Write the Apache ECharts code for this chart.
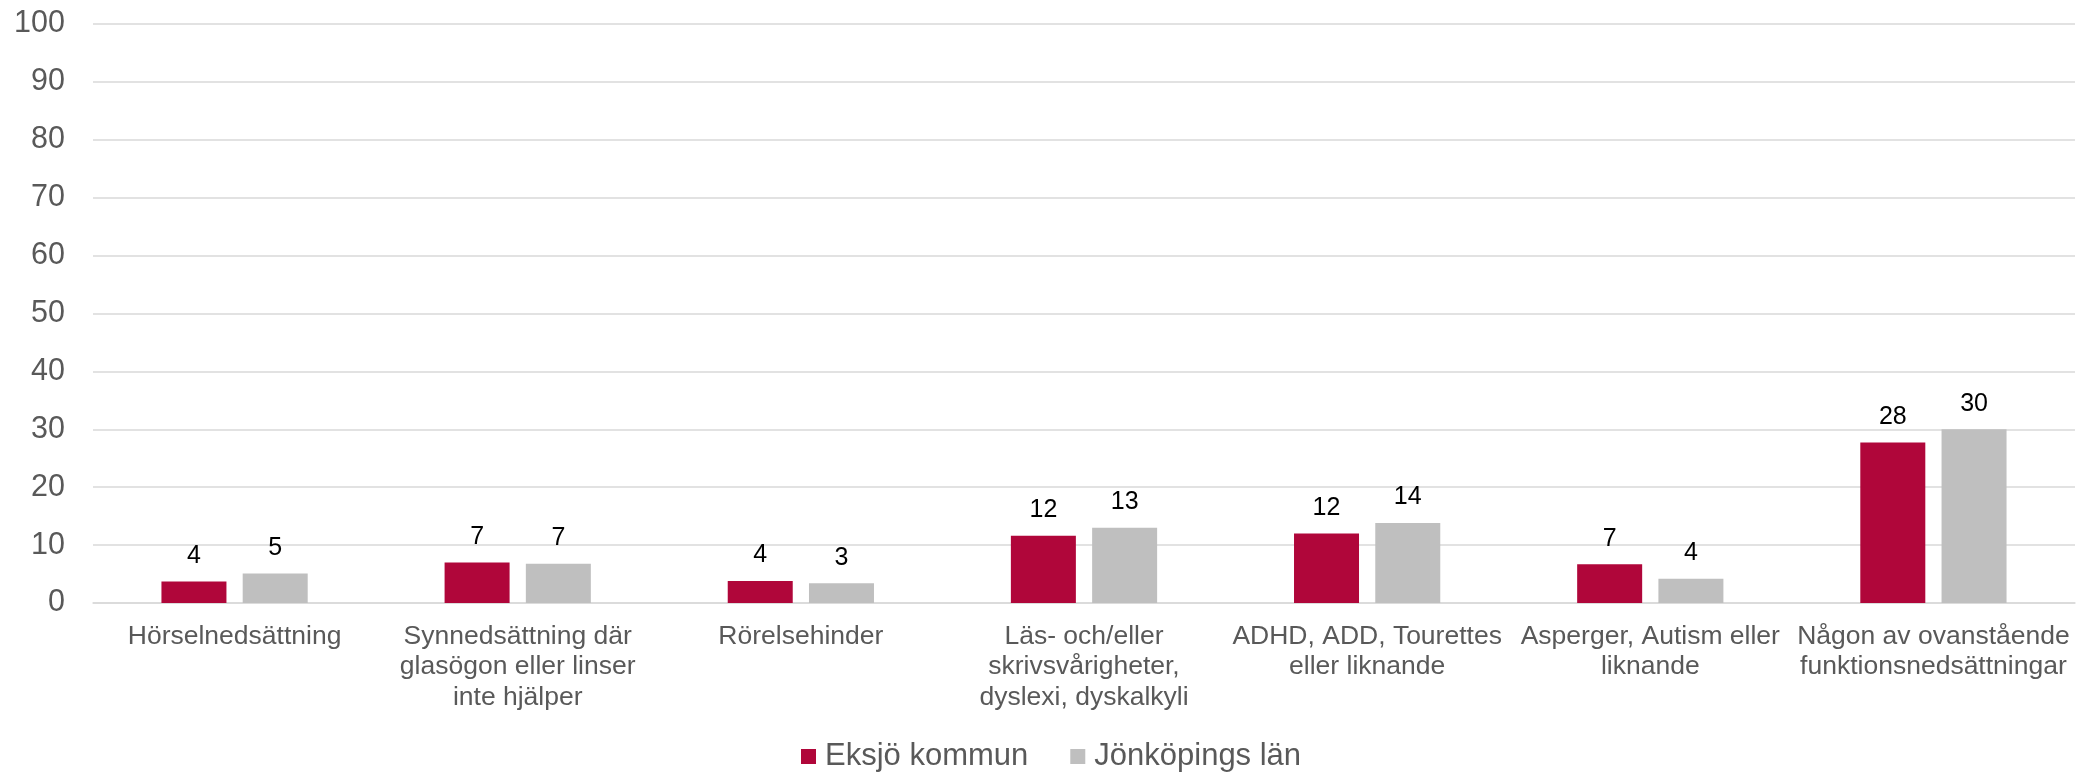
<!DOCTYPE html>
<html>
<head>
<meta charset="utf-8">
<script src="https://cdn.jsdelivr.net/npm/echarts@6/dist/echarts.min.js"></script>
<style>
html,body{margin:0;padding:0;background:#fff;}
#chart{width:2089px;height:772px;}
</style>
</head>
<body>
<div id="chart"></div>
<script>
const categories = [
  "Hörselnedsättning",
  "Synnedsättning där\nglasögon eller linser\ninte hjälper",
  "Rörelsehinder",
  "Läs- och/eller\nskrivsvårigheter,\ndyslexi, dyskalkyli",
  "ADHD, ADD, Tourettes\neller liknande",
  "Asperger, Autism eller\nliknande",
  "Någon av ovanstående\nfunktionsnedsättningar"
];
const seriesNames = ["Eksjö kommun", "Jönköpings län"];
const eksjo = [3.7, 7.0, 3.8, 11.6, 12.0, 6.7, 27.7];
const jonkoping = [5.1, 6.8, 3.4, 13.0, 13.8, 4.2, 30.0];
const yTicks = { min: 0, max: 100, interval: 10 };

const FONT = "'Liberation Sans', Arial, sans-serif";
const chart = echarts.init(document.getElementById('chart'), null, { renderer: 'canvas' });
const labelCfg = {
  show: true,
  position: 'top',
  distance: 13,
  color: '#000',
  fontSize: 25,
  fontFamily: FONT,
  formatter: p => Math.round(p.value)
};
chart.setOption({
  animation: false,
  backgroundColor: '#fff',
  textStyle: { fontFamily: FONT },
  grid: { left: 93, right: 14, top: 24, bottom: 169, containLabel: false },
  legend: {
    left: 796,
    top: 736,
    itemWidth: 15,
    itemHeight: 15,
    itemGap: 42,
    icon: 'rect',
    textStyle: { fontSize: 31, color: '#595959', fontFamily: FONT, padding: [0, 0, 0, 4] },
    data: seriesNames
  },
  xAxis: {
    type: 'category',
    data: categories,
    axisLine: { lineStyle: { color: '#D9D9D9', width: 1.5 } },
    axisTick: { show: false },
    axisLabel: {
      interval: 0,
      margin: 18,
      fontSize: 26.5,
      lineHeight: 30.5,
      color: '#595959',
      fontFamily: FONT
    }
  },
  yAxis: {
    type: 'value',
    min: yTicks.min,
    max: yTicks.max,
    interval: yTicks.interval,
    axisLine: { show: false },
    axisTick: { show: false },
    splitLine: { lineStyle: { color: '#D9D9D9', width: 1.5 } },
    axisLabel: { fontSize: 30.5, color: '#595959', margin: 28, fontFamily: FONT }
  },
  series: [
    {
      name: seriesNames[0],
      type: 'bar',
      data: eksjo,
      barWidth: 65,
      barGap: '25%',
      itemStyle: { color: '#B0063A' },
      label: labelCfg
    },
    {
      name: seriesNames[1],
      type: 'bar',
      data: jonkoping,
      barWidth: 65,
      barGap: '25%',
      itemStyle: { color: '#BFBFBF' },
      label: labelCfg
    }
  ]
});
</script>
</body>
</html>
